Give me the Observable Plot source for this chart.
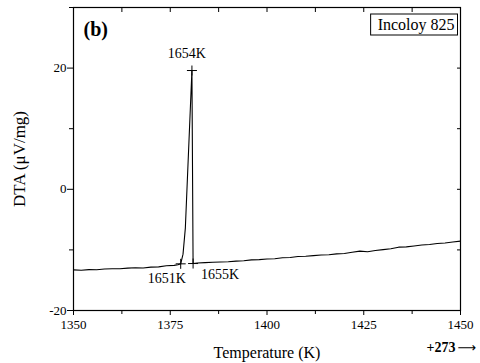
<!DOCTYPE html>
<html>
<head>
<meta charset="utf-8">
<script src="https://cdn.jsdelivr.net/npm/d3@7"></script>
<script src="https://cdn.jsdelivr.net/npm/@observablehq/plot@0.6"></script>
<style>
  html, body { margin: 0; padding: 0; background: #fff; }
  svg { display: block; }
</style>
</head>
<body>
<div id="chart"></div>
<script>
// Temperature in °C (axis labelled with "+273 →" conversion)
const temps = [1350, 1352, 1354, 1356, 1358, 1360, 1362, 1364, 1366, 1368, 1370, 1372, 1374, 1376, 1377, 1377.7,
  1378.3, 1378.9, 1380.6, 1380.9,
  1382, 1384, 1386, 1388, 1390, 1392, 1394, 1396, 1398, 1400, 1402, 1404, 1406, 1408, 1410, 1412, 1414, 1416,
  1418, 1420, 1422, 1424, 1426, 1428, 1430, 1432, 1434, 1436, 1438, 1440, 1442, 1444, 1446, 1448, 1450];
const dta = [-13.30, -13.35, -13.25, -13.28, -13.15, -13.10, -13.12, -13.00, -12.95, -12.98, -12.85, -12.80, -12.62, -12.55, -12.45, -12.30,
  -10.7, -6.4, 19.6, -12.25,
  -12.15, -12.10, -12.05, -12.00, -11.95, -11.85, -11.80, -11.65, -11.60, -11.50, -11.45, -11.30, -11.25, -11.10, -11.05, -10.95, -10.85, -10.80,
  -10.65, -10.60, -10.40, -10.20, -10.30, -10.10, -9.95, -9.80, -9.55, -9.50, -9.35, -9.20, -9.10, -8.95, -8.85, -8.70, -8.55];

// Characteristic points (onset, peak, end)
const markT = [1377.7, 1380.6, 1380.9];
const markV = [-12.30, 19.6, -12.25];
const markLabels = ["1651K", "1654K", "1655K"];

const xMajor = [1350, 1375, 1400, 1425, 1450];
const xMinor = [1362.5, 1387.5, 1412.5, 1437.5];
const yMajor = [-20, 0, 20];
const yMinor = [-10, 10, 30];

const curve = temps.map((t, i) => ({t, v: dta[i]}));
const marks = markT.map((t, i) => ({t, v: markV[i], label: markLabels[i]}));

const plusSymbol = {
  draw(context, size) {
    const r = Math.sqrt(size / Math.PI);
    context.moveTo(-r, 0); context.lineTo(r, 0);
    context.moveTo(0, -r); context.lineTo(0, r);
  }
};

const font = "'Liberation Serif', 'Times New Roman', serif";
const plain = d => String(d);

const chart = Plot.plot({
  width: 480,
  height: 363,
  marginLeft: 73,
  marginRight: 20,
  marginTop: 7,
  marginBottom: 53,
  style: {fontFamily: font, fontSize: "13px", color: "#000", background: "#fff", overflow: "visible"},
  x: {domain: [1350, 1450]},
  y: {domain: [-20, 30]},
  marks: [
    Plot.axisX({ticks: xMajor, tickSize: 5, tickPadding: 4, fontSize: 13, tickFormat: plain, label: null}),
    Plot.axisX({ticks: xMinor, tickSize: 4, tickFormat: () => "", label: null}),
    Plot.axisX({anchor: "top", ticks: xMajor.concat(xMinor), tickSize: -4, tickFormat: () => "", label: null}),
    Plot.axisY({ticks: yMajor, tickSize: 6, tickPadding: 1, fontSize: 13, tickFormat: plain, label: null}),
    Plot.axisY({ticks: yMinor, tickSize: 4, tickFormat: () => "", label: null}),
    Plot.axisY({anchor: "right", ticks: yMajor.concat(yMinor), tickSize: -4, tickFormat: () => "", label: null}),
    Plot.frame({stroke: "#000", strokeWidth: 1.2}),
    Plot.line(curve, {x: "t", y: "v", stroke: "#000", strokeWidth: 1.1}),
    Plot.dot(marks, {x: "t", y: "v", symbol: plusSymbol, r: 5, stroke: "#000", strokeWidth: 1, fill: "none"}),
    Plot.text([marks[0]], {x: "t", y: "v", text: "label", dx: -14, dy: 15, fontSize: 14}),
    Plot.text([marks[1]], {x: "t", y: "v", text: "label", dx: -5, dy: -17, fontSize: 14}),
    Plot.text([marks[2]], {x: "t", y: "v", text: "label", dx: 8, dy: 11, textAnchor: "start", fontSize: 14}),
    Plot.text(["(b)"], {frameAnchor: "top-left", dx: 10, dy: 22, textAnchor: "start", lineAnchor: "middle", fontWeight: "bold", fontSize: 20}),
    Plot.text(["Incoloy 825"], {frameAnchor: "top-right", dx: -6, dy: 17, textAnchor: "end", lineAnchor: "middle", fontSize: 16}),
    Plot.text(["Temperature (K)"], {frameAnchor: "bottom", dx: 0, dy: 42, lineAnchor: "middle", fontSize: 16}),
    Plot.text(["DTA (μV/mg)"], {frameAnchor: "left", dx: -54, dy: 0, rotate: -90, textAnchor: "middle", lineAnchor: "middle", fontSize: 17}),
    Plot.text(["+273"], {frameAnchor: "bottom-right", dx: -5, dy: 37, textAnchor: "end", lineAnchor: "middle", fontWeight: "bold", fontSize: 14}),
    Plot.text(["⟶"], {frameAnchor: "bottom-right", dx: -3, dy: 37, textAnchor: "start", lineAnchor: "middle", fontSize: 13, fontFamily: "DejaVu Sans"})
  ]
});

document.getElementById("chart").appendChild(chart);

// Box around the legend label
const svg = d3.select(chart);
svg.selectAll("text").filter(function() { return this.textContent === "Incoloy 825"; }).each(function() {
  const b = this.getBBox();
  const tr = this.getAttribute("transform");
  d3.select(this.parentNode).insert("rect", () => this)
    .attr("transform", tr)
    .attr("x", b.x - 7).attr("y", -10.5)
    .attr("width", b.width + 10).attr("height", 21)
    .attr("fill", "none").attr("stroke", "#000").attr("stroke-width", 1);
});
</script>
</body>
</html>
